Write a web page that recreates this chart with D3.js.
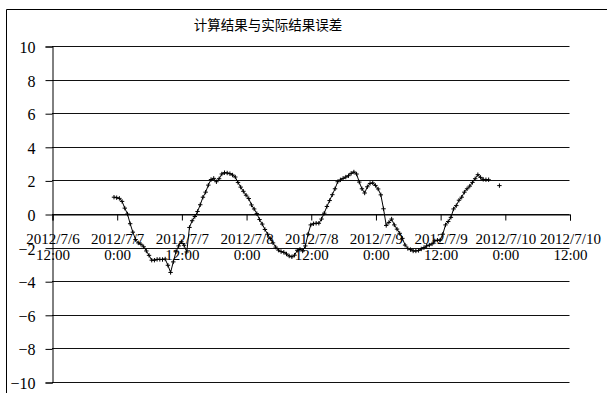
<!DOCTYPE html>
<html>
<head>
<meta charset="utf-8">
<script src="https://cdn.jsdelivr.net/npm/d3@7"></script>
<style>
  html, body { margin: 0; padding: 0; background: #fff; }
  svg { display: block; }
</style>
</head>
<body>
<svg id="chart" width="607" height="393"></svg>
<script>
// Chart title
const chartTitle = "计算结果与实际结果误差";

// Y axis ticks (error)
const yTicks = [10, 8, 6, 4, 2, 0, -2, -4, -6, -8, -10];

// X axis domain and tick spacing
const xStart = "2012-07-06 12:00";
const xEnd = "2012-07-10 12:00";
const tickHours = 12;

// Series: half-hourly error readings starting at seriesStart (null = missing)
const seriesStart = "2012-07-06 23:30";
const stepMinutes = 30;
const errorValues = [
  1.00, 0.97, 0.93, 0.75, 0.35, 0.00, -0.58, -1.08, -1.52, -1.72,
  -1.80, -1.95, -2.20, -2.46, -2.75, -2.75, -2.70, -2.70, -2.71, -2.68,
  -3.05, -3.48, -2.85, -2.25, -1.90, -1.65, -1.86, -2.26, -0.80, -0.40,
  -0.15, 0.15, 0.55, 1.00, 1.30, 1.72, 2.05, 2.12, 1.92, 2.10,
  2.38, 2.46, 2.44, 2.40, 2.32, 2.20, 1.88, 1.60, 1.35, 1.12,
  0.92, 0.54, 0.30, 0.02, -0.33, -0.60, -0.92, -1.20, -1.47, -1.72,
  -1.97, -2.15, -2.24, -2.28, -2.38, -2.50, -2.55, -2.45, -2.16, -2.10,
  -2.20, -1.90, -1.20, -0.65, -0.58, -0.55, -0.55, -0.30, 0.05, 0.45,
  0.80, 1.15, 1.50, 1.92, 2.03, 2.12, 2.20, 2.28, 2.42, 2.50,
  2.38, 1.90, 1.50, 1.25, 1.62, 1.82, 1.85, 1.70, 1.49, 1.14,
  0.31, -0.68, -0.50, -0.30, -0.65, -0.90, -1.15, -1.45, -1.85, -2.05,
  -2.12, -2.20, -2.20, -2.17, -2.08, -2.00, -1.90, -1.85, -1.78, -1.60,
  -1.56, -1.55, -1.20, -0.65, -0.45, -0.20, 0.30, 0.50, 0.82, 1.00,
  1.30, 1.50, 1.66, 1.88, 2.10, 2.34, 2.18, 2.06, 2.04, 2.04,
  null, null, null, 1.69
];

const parseTime = d3.timeParse("%Y-%m-%d %H:%M");
const t0 = parseTime(seriesStart);
const series = errorValues.map((v, i) => ({
  time: d3.timeMinute.offset(t0, i * stepMinutes),
  value: v
}));

const svg = d3.select("#chart");
const serif = "'Liberation Serif', 'Times New Roman', serif";

const margin = { left: 52, right: 37.5, top: 46, bottom: 11 };
const width = 607, height = 393;

const x = d3.scaleTime()
  .domain([parseTime(xStart), parseTime(xEnd)])
  .range([margin.left, width - margin.right]);

const y = d3.scaleLinear()
  .domain([-10, 10])
  .range([height - margin.bottom, margin.top]);

// Outer chart frame (left and top edges visible)
svg.append("path")
  .attr("d", `M6.5,${height}V9.5H${width}`)
  .attr("fill", "none")
  .attr("stroke", "#000")
  .attr("stroke-width", 1);

// Title
svg.append("text")
  .attr("x", 268)
  .attr("y", 30)
  .attr("text-anchor", "middle")
  .attr("font-family", "'Noto Sans CJK SC', sans-serif")
  .attr("font-size", 13.5)
  .attr("fill", "#000")
  .text(chartTitle);

// Horizontal gridlines
svg.append("g")
  .selectAll("line")
  .data(yTicks)
  .join("line")
  .attr("x1", x.range()[0])
  .attr("x2", x.range()[1])
  .attr("y1", d => Math.round(y(d)) + 0.5)
  .attr("y2", d => Math.round(y(d)) + 0.5)
  .attr("stroke", "#111")
  .attr("stroke-width", 1);

// Y axis
const yAxis = d3.axisLeft(y)
  .tickValues(yTicks)
  .tickSize(7)
  .tickPadding(10)
  .tickFormat(d3.format("d"));

const gy = svg.append("g")
  .attr("transform", `translate(${Math.round(margin.left) + 0.5},0.5)`)
  .call(yAxis);
gy.select(".domain").attr("stroke", "#000");
gy.selectAll(".tick line").attr("stroke", "#000");
gy.selectAll(".tick text")
  .attr("font-family", serif)
  .attr("font-size", 16)
  .attr("fill", "#000")
  .attr("dy", "0.38em");

// X axis at zero with two-line date/time labels
const xAxis = d3.axisBottom(x)
  .ticks(d3.timeHour.every(tickHours))
  .tickSize(6)
  .tickFormat(() => "");

const gx = svg.append("g")
  .attr("transform", `translate(0.5,${Math.round(y(0)) + 0.5})`)
  .call(xAxis);
gx.select(".domain").attr("stroke", "#000");
gx.selectAll(".tick line").attr("stroke", "#000");

const fmtDate = d3.timeFormat("%Y/%-m/%-d");
const fmtTime = d3.timeFormat("%-H:%M");
gx.selectAll(".tick").each(function(d) {
  const t = d3.select(this).select("text")
    .attr("font-family", serif)
    .attr("font-size", 15)
    .attr("fill", "#000")
    .attr("y", 0)
    .attr("dy", null)
    .attr("text-anchor", "middle");
  t.append("tspan").attr("x", 0).attr("y", 29.5).text(fmtDate(d));
  t.append("tspan").attr("x", 0).attr("y", 45.5).text(fmtTime(d));
});

// Error line
const line = d3.line()
  .defined(d => d.value !== null)
  .x(d => x(d.time))
  .y(d => y(d.value));

svg.append("path")
  .datum(series)
  .attr("d", line)
  .attr("fill", "none")
  .attr("stroke", "#000")
  .attr("stroke-width", 1);

// Cross markers
const m = 2.2;
svg.append("g")
  .selectAll("path")
  .data(series.filter(d => d.value !== null))
  .join("path")
  .attr("transform", d => `translate(${x(d.time)},${y(d.value)})`)
  .attr("d", `M${-m},0H${m}M0,${-m}V${m}`)
  .attr("stroke", "#000")
  .attr("stroke-width", 1)
  .attr("fill", "none");
</script>
</body>
</html>
